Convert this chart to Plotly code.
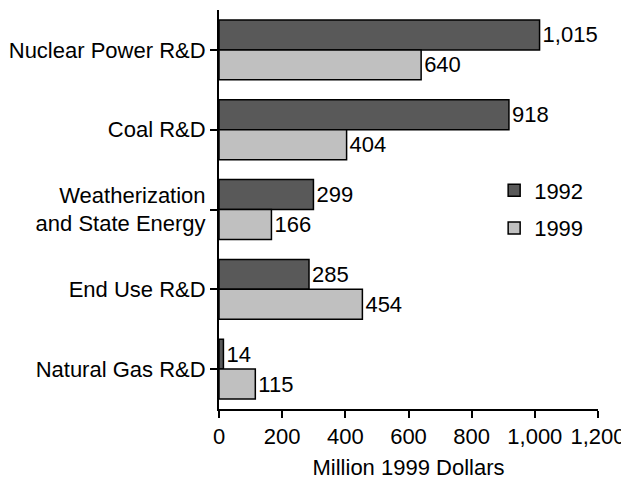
import plotly.graph_objects as go

categories = ['Nuclear Power R&D', 'Coal R&D', 'Weatherization<br>and State Energy',
              'End Use R&D', 'Natural Gas R&D']
values_1992 = [1015, 918, 299, 285, 14]
values_1999 = [640, 404, 166, 454, 115]
tick_vals = [0, 200, 400, 600, 800, 1000, 1200]
tick_text = ['0', '200', '400', '600', '800', '1,000', '1,200']

FS = 22

fig = go.Figure()
fig.add_trace(go.Bar(y=categories, x=values_1992, orientation='h', name='1992',
                     legendgroup='a',
                     marker=dict(color='#595959', line=dict(color='black', width=1.5)),
                     texttemplate='%{x:,}', textposition='outside',
                     textfont=dict(size=FS, color='black'), cliponaxis=False))
fig.add_trace(go.Bar(y=categories, x=values_1999, orientation='h', name='1999',
                     legendgroup='b',
                     marker=dict(color='#c0c0c0', line=dict(color='black', width=1.5)),
                     texttemplate='%{x:,}', textposition='outside',
                     textfont=dict(size=FS, color='black'), cliponaxis=False))

# page body has an 8px default margin, so the figure is 8px smaller each way
fig.update_layout(
    width=621, height=472,
    margin=dict(l=211, r=31, t=2, b=71),
    paper_bgcolor='white', plot_bgcolor='white',
    font=dict(family='Liberation Sans, Arial', size=FS, color='black'),
    barmode='group', bargap=0.25, bargroupgap=0,
    legend=dict(x=0.726, y=0.5, xanchor='left', yanchor='middle',
                tracegroupgap=6, traceorder='grouped', bgcolor='rgba(0,0,0,0)',
                font=dict(size=FS)),
    xaxis=dict(range=[0, 1200], tickvals=tick_vals, ticktext=tick_text,
               showgrid=False, zeroline=False, showline=True, linecolor='black',
               linewidth=2, ticks='outside', ticklen=7, tickwidth=2, tickcolor='black',
               tickfont=dict(size=FS), automargin=False,
               title=dict(text='Million 1999 Dollars', font=dict(size=FS), standoff=18)),
    yaxis=dict(autorange='reversed', showgrid=False, showline=True, linecolor='black',
               linewidth=2, ticks='outside', ticklen=7, tickwidth=2, tickcolor='black',
               tickfont=dict(size=FS), automargin=False),
)

fig.write_html("out.html")
